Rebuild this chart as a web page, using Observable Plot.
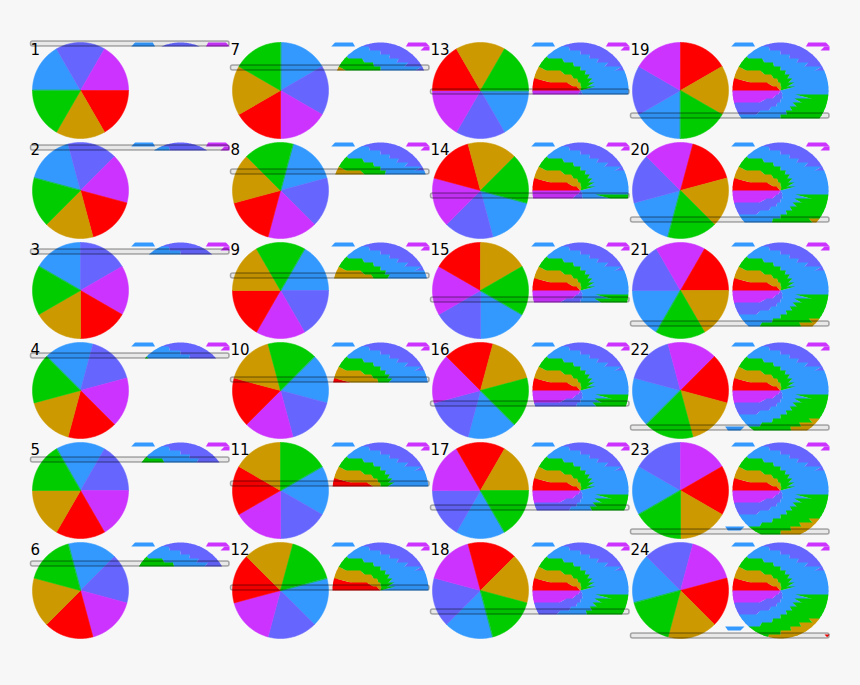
<!DOCTYPE html>
<html>
<head>
<meta charset="utf-8">
<script src="https://cdn.jsdelivr.net/npm/d3@7"></script>
<script src="https://cdn.jsdelivr.net/npm/@observablehq/plot@0.6"></script>
<style>
  html, body { margin: 0; padding: 0; background: #f7f7f7; }
  #chart svg { display: block; background: #f7f7f7; }
</style>
</head>
<body>
<div id="chart"></div>
<script>
// ---- data ----
const frameLabels = ["1","2","3","4","5","6","7","8","9","10","11","12","13","14","15","16","17","18","19","20","21","22","23","24"];
// pie start angle (degrees, clockwise from 12 o'clock) of the first slice in each frame
const rotation = [-90,-75,-60,-45,-30,-15,0,15,30,45,60,75,90,105,120,135,150,165,180,195,210,225,240,255];
const sliceNames = ["blue","periwinkle","magenta","red","gold","green"];
const sliceColors = ["#3399ff","#6666ff","#cc33ff","#ff0000","#cc9900","#00cc00"];
const sliceValues = [1,1,1,1,1,1];
// stray slit pieces that spill outside the scan circle
const strayRows = [0,0,1,21,23];
const straySlices = ["blue","magenta","magenta","blue","red"];

// ---- layout ----
const W = 860, H = 685;
const LEFT = 30, TOP = 42, PW = 200, PH = 100, PER_COL = 6;
const R = 48, ROWH = 4, STRAY_R = 66;
const PIE_DX = 50, SCAN_DX = 150, CY = 48;

const pieGen = d3.pie().sort(null);
function arcs(fi) {
  const a = rotation[fi] * Math.PI / 180;
  return pieGen.startAngle(a).endAngle(a + 2 * Math.PI)(sliceValues);
}
function wedge(cx, cy, r, a0, a1) {
  const pts = [[cx, cy]];
  const n = Math.max(2, Math.ceil((a1 - a0) / (Math.PI / 180)));
  for (let i = 0; i <= n; i++) {
    const a = a0 + (a1 - a0) * i / n;
    pts.push([cx + r * Math.sin(a), cy - r * Math.cos(a)]);
  }
  return pts;
}
function clipHalf(poly, inside, cut) {
  const out = [];
  for (let i = 0; i < poly.length; i++) {
    const cur = poly[i], prev = poly[(i + poly.length - 1) % poly.length];
    const ci = inside(cur), pi = inside(prev);
    if (ci) { if (!pi) out.push(cut(prev, cur)); out.push(cur); }
    else if (pi) out.push(cut(prev, cur));
  }
  return out;
}
const cutY = y => (p, q) => { const t = (y - p[1]) / (q[1] - p[1]); return [p[0] + t * (q[0] - p[0]), y]; };
const cutX = x => (p, q) => { const t = (x - p[0]) / (q[0] - p[0]); return [x, p[1] + t * (q[1] - p[1])]; };
function band(poly, y0, y1) {
  let p = clipHalf(poly, d => d[1] >= y0, cutY(y0));
  if (p.length) p = clipHalf(p, d => d[1] <= y1, cutY(y1));
  return p;
}

const pieRows = [], strayPts = [], scanRows = [], bars = [], labels = [];
let gid = 0;
function push(arr, poly, color) {
  if (poly.length < 3) return;
  const id = gid++;
  for (const [x, y] of poly) arr.push({x, y, id, color});
}

frameLabels.forEach((lab, p) => {
  const col = Math.floor(p / PER_COL), row = p % PER_COL;
  const left = LEFT + col * PW, top = TOP + row * PH;
  // pie of this frame
  arcs(p).forEach((a, s) => push(pieRows, wedge(left + PIE_DX, top + CY, R, a.startAngle, a.endAngle), sliceColors[s]));
  // scan: row r shows the horizontal slice of frame r's pie
  const scx = left + SCAN_DX, scy = top + CY, sTop = scy - R;
  strayRows.forEach((r, k) => {
    if (r > p) return;
    const s = sliceNames.indexOf(straySlices[k]);
    const a = arcs(r)[s];
    let poly = band(wedge(scx, scy, STRAY_R, a.startAngle, a.endAngle), sTop + r * ROWH, sTop + (r + 1) * ROWH);
    if (poly.length) poly = clipHalf(poly, d => d[0] <= scx + R + 1, cutX(scx + R + 1));
    push(strayPts, poly, sliceColors[s]);
  });
  for (let r = 0; r <= p; r++) {
    const extra = r < p ? 1 : 0;
    arcs(r).forEach((a, s) => push(scanRows, band(wedge(scx, scy, R, a.startAngle, a.endAngle), sTop + r * ROWH, sTop + (r + 1) * ROWH + extra), sliceColors[s]));
  }
  const by = top + ROWH * p - 1;
  bars.push({x1: left + 0.5, x2: left + 199, y1: by, y2: by + 5});
  labels.push({x: left, y: top + 12.5, text: lab});
});

const pieOpts = {x: "x", y: "y", z: "id", fill: "color", stroke: "color", strokeWidth: 0.6, curve: "linear-closed"};
const scanOpts = {x: "x", y: "y", z: "id", fill: "color", stroke: "none", curve: "linear-closed"};

const chart = Plot.plot({
  width: W, height: H,
  margin: 0, marginTop: 0, marginRight: 0, marginBottom: 0, marginLeft: 0,
  style: {background: "#f7f7f7"},
  x: {domain: [0, W], range: [0, W], axis: null},
  y: {domain: [0, H], range: [0, H], axis: null},
  color: {type: "identity"},
  marks: [
    Plot.line(pieRows, pieOpts),
    Plot.line(strayPts, scanOpts),
    Plot.line(scanRows, scanOpts),
    Plot.rect(bars, {x1: "x1", x2: "x2", y1: "y1", y2: "y2", rx: 2, fill: "#000", fillOpacity: 0.06, stroke: "#000", strokeOpacity: 0.32, strokeWidth: 1.5}),
    Plot.text(labels, {x: "x", y: "y", text: "text", textAnchor: "start", lineAnchor: "bottom", fontSize: 15, fontFamily: "DejaVu Sans", fill: "#000"})
  ]
});
document.getElementById("chart").appendChild(chart);
</script>
</body>
</html>
